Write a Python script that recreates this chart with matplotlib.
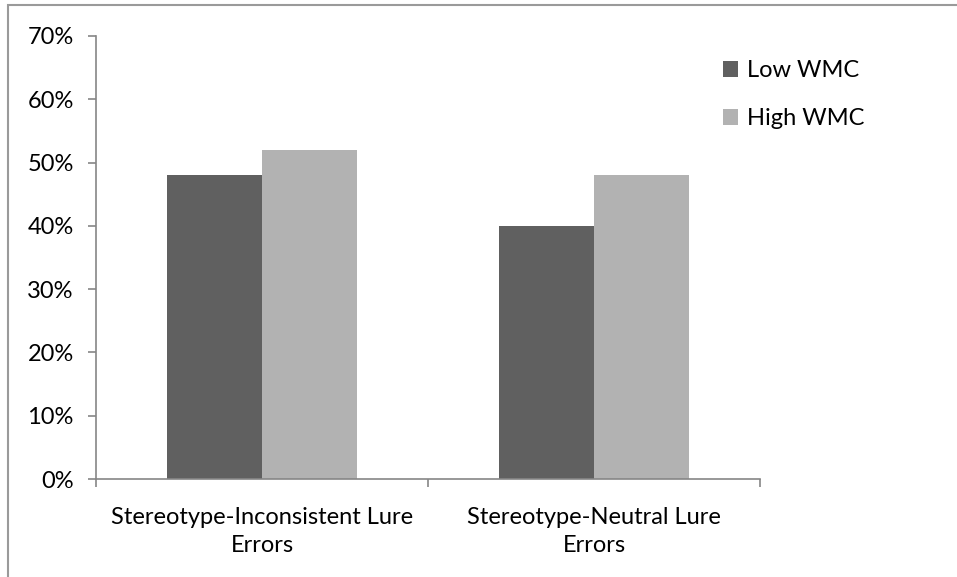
import matplotlib.pyplot as plt
from matplotlib.patches import Rectangle
from matplotlib.ticker import PercentFormatter
import numpy as np

categories = ['Stereotype-Inconsistent Lure\nErrors', 'Stereotype-Neutral Lure\nErrors']
low_wmc = [0.48, 0.40]
high_wmc = [0.52, 0.48]
series_names = ['Low WMC', 'High WMC']

plt.rcParams['font.family'] = ['Lato', 'DejaVu Sans']

fig = plt.figure(figsize=(9.57, 5.77), dpi=100)
ax = fig.add_axes([96 / 957, 1 - 479 / 577, (760 - 96) / 957, (479 - 36) / 577])

# outer chart border (only top and left visible in the reference)
fig.patches.append(Rectangle((8 / 957, -0.1), 1.2, 1.1 - 5 / 577, transform=fig.transFigure,
                             fill=False, edgecolor='#9a9a9a', linewidth=1.5))

axis_col = '#868686'
fs = 17
width = 1 / 3.5
x = np.arange(len(categories)) + 0.5
ax.bar(x - width / 2, low_wmc, width, color='#606060', label=series_names[0])
ax.bar(x + width / 2, high_wmc, width, color='#b2b2b2', label=series_names[1])

ax.set_xlim(0, len(categories))
ax.set_ylim(0, 0.70)
ax.set_yticks(np.arange(0, 0.71, 0.10))
ax.yaxis.set_major_formatter(PercentFormatter(1.0, decimals=0))

ax.set_xticks(np.arange(len(categories) + 1))
ax.set_xticklabels([])
ax.set_xticks(x, minor=True)
ax.set_xticklabels(categories, minor=True, linespacing=1.44)
ax.tick_params(axis='x', which='minor', length=0, pad=20, labelsize=fs)
ax.tick_params(axis='x', which='major', length=6, direction='out', color=axis_col, width=1.2)
ax.tick_params(axis='y', length=6, direction='out', color=axis_col, width=1.2, pad=10, labelsize=fs)

for s in ['top', 'right']:
    ax.spines[s].set_visible(False)
for s in ['left', 'bottom']:
    ax.spines[s].set_color(axis_col)
    ax.spines[s].set_linewidth(1.2)

ax.legend(loc='upper left', bbox_to_anchor=(723 / 957, 1 - 60 / 577), bbox_transform=fig.transFigure,
          frameon=False, fontsize=fs, handlelength=0.65, handleheight=0.65, handletextpad=0.35,
          labelspacing=1.15, borderpad=0, borderaxespad=0)

fig.savefig('out.png', dpi=100)
